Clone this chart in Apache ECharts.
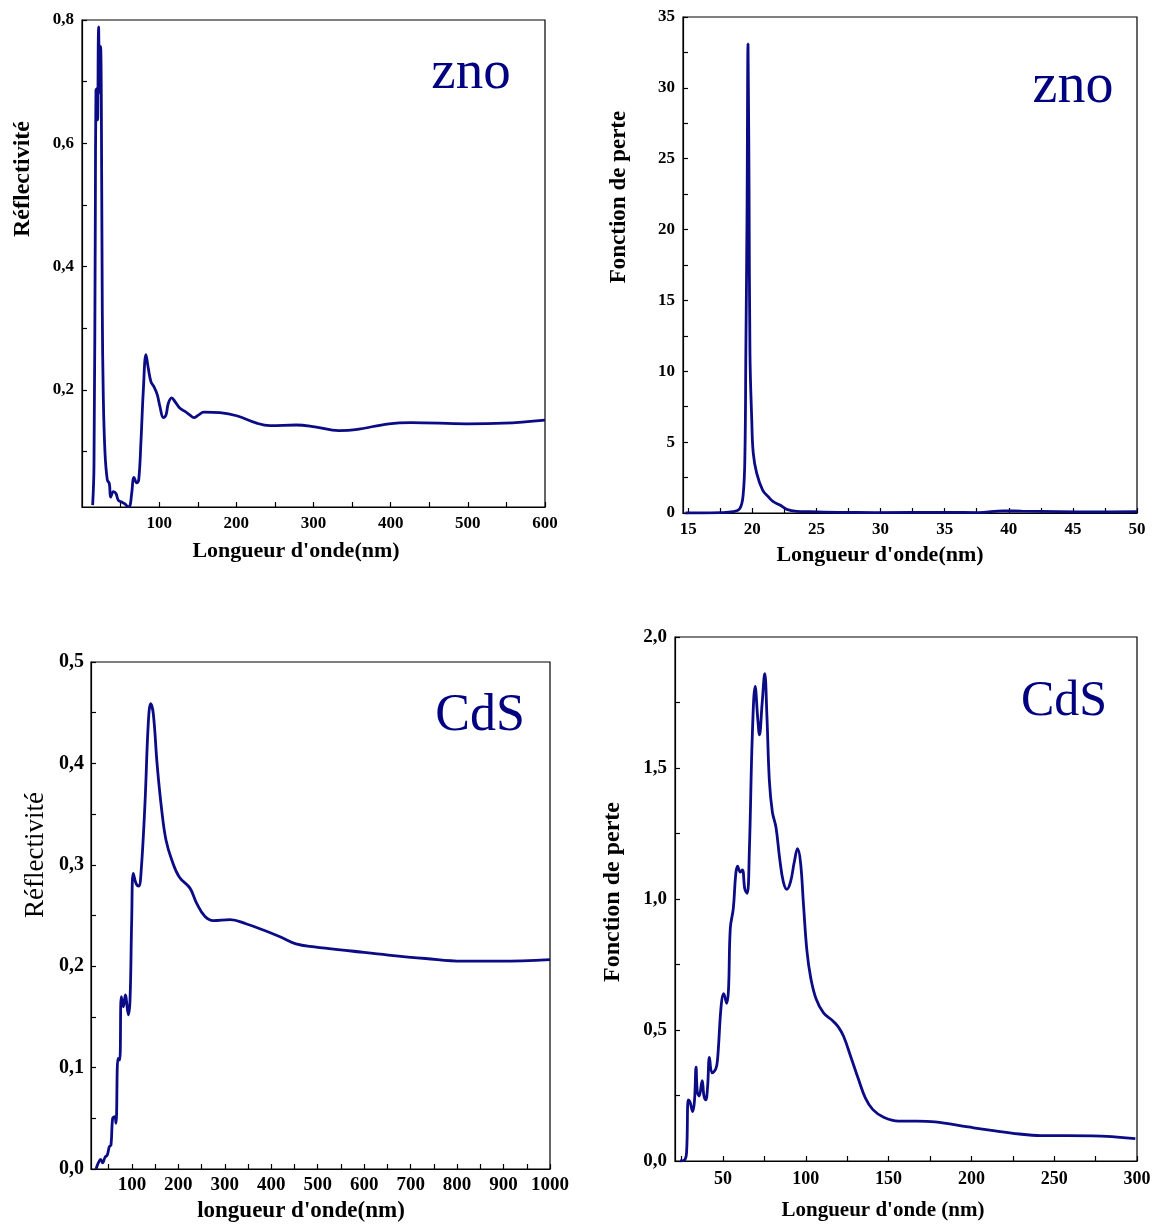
<!DOCTYPE html>
<html>
<head>
<meta charset="utf-8">
<title>Réflectivité et fonction de perte - ZnO / CdS</title>
<script src="https://cdn.jsdelivr.net/npm/echarts@6/dist/echarts.min.js"></script>
<style>
html, body { margin: 0; padding: 0; background: #fff; }
#chart { width: 1156px; height: 1224px; }
</style>
</head>
<body>
<div id="chart"></div>
<script>
// ZnO : réflectivité
var znoReflX = [13.8, 15.5, 17.3, 18.1, 19.9, 20.3, 21.6, 22.5, 23.3, 24.2, 25, 26.3, 27.6, 29.8, 32.8, 35.4, 37.2, 40.6, 44, 47, 51.4, 55.7, 60, 62.2, 64.4, 67.4, 70.9, 73.5, 76.5, 79.5, 82.9, 85.9, 89.4, 93.3, 97.6, 101, 105.4, 108.8, 111.8, 116.2, 120.5, 127, 133.5, 140, 145, 150.7, 158, 178.8, 200.4, 226.4, 243.6, 277.7, 301.7, 333, 354.5, 397.7, 426.4, 498.5, 546.4, 600];
var znoReflY = [0.013, 0.075, 0.49, 0.686, 0.689, 0.638, 0.789, 0.789, 0.681, 0.757, 0.68, 0.33, 0.189, 0.098, 0.054, 0.048, 0.026, 0.035, 0.032, 0.021, 0.018, 0.015, 0.0105, 0.012, 0.032, 0.058, 0.049, 0.054, 0.119, 0.2, 0.257, 0.235, 0.213, 0.205, 0.192, 0.173, 0.155, 0.159, 0.178, 0.187, 0.181, 0.17, 0.165, 0.159, 0.155, 0.159, 0.164, 0.163, 0.158, 0.146, 0.142, 0.143, 0.14, 0.134, 0.1355, 0.145, 0.147, 0.145, 0.146, 0.151];

// ZnO : fonction de perte
var znoLossX = [14.8, 16, 17.5, 18.5, 19.04, 19.3, 19.43, 19.5, 19.59, 19.67, 19.75, 19.82, 19.96, 20.08, 20.35, 20.81, 21.25, 21.64, 22.16, 22.69, 23.47, 24.5, 26.7, 29.6, 35.3, 37.6, 39.6, 41, 43.9, 46.7, 50];
var znoLossY = [0, 0, 0.02, 0.09, 0.33, 1.39, 4.2, 11.3, 20.7, 33.1, 23, 11.3, 6.6, 4.2, 2.8, 1.62, 1.15, 0.8, 0.56, 0.26, 0.12, 0.09, 0.05, 0.03, 0.05, 0.03, 0.15, 0.13, 0.1, 0.08, 0.1];

// CdS : réflectivité
var cdsReflX = [22.8, 27.8, 32.8, 37.1, 42.1, 47, 51.4, 55, 58.6, 63, 65.8, 70.1, 73.8, 77.2, 81.6, 85.9, 92.3, 96, 99.6, 103, 108.9, 114.7, 119.6, 128.2, 135.3, 140.5, 146.1, 154.7, 164.2, 173.4, 185.7, 202, 225, 239.5, 257.4, 275.3, 311.2, 347, 382.9, 418.8, 453, 493, 572, 652, 732, 811, 891, 1000];
var cdsReflY = [0, 0.006, 0.0095, 0.006, 0.0115, 0.0138, 0.022, 0.0237, 0.05, 0.0516, 0.045, 0.109, 0.1075, 0.17, 0.16, 0.1716, 0.152, 0.1667, 0.2456, 0.2916, 0.2817, 0.279, 0.2916, 0.3606, 0.4395, 0.459, 0.449, 0.397, 0.354, 0.3245, 0.305, 0.288, 0.277, 0.262, 0.249, 0.245, 0.246, 0.2416, 0.2357, 0.229, 0.222, 0.219, 0.215, 0.211, 0.2076, 0.205, 0.205, 0.2065];

// CdS : fonction de perte
var cdsLossX = [24, 26.8, 28, 29, 30, 31.7, 32.8, 33.7, 34.5, 35.6, 37.4, 38.5, 39.6, 40.7, 41.8, 43.4, 45.6, 46.7, 48.9, 50.4, 52.2, 53.3, 54.4, 56.2, 57.7, 58.8, 60.4, 61.7, 63.2, 64.6, 65.9, 67.7, 69.4, 71, 72, 73.6, 75.2, 76.5, 78, 79.8, 82, 84.2, 86.4, 88.6, 90.8, 93, 95, 96.8, 98.6, 100.7, 103, 106.3, 110.7, 116.2, 119.5, 122.8, 127.3, 131.7, 136, 140.5, 147, 156, 167, 178, 198, 211, 229, 242, 273, 299];
var cdsLossY = [0, 0.004, 0.034, 0.233, 0.226, 0.189, 0.233, 0.358, 0.263, 0.248, 0.307, 0.248, 0.233, 0.285, 0.395, 0.336, 0.351, 0.388, 0.594, 0.639, 0.602, 0.653, 0.889, 0.963, 1.096, 1.125, 1.103, 1.111, 1.037, 1.022, 1.184, 1.627, 1.811, 1.686, 1.627, 1.745, 1.86, 1.70, 1.45, 1.332, 1.273, 1.155, 1.066, 1.037, 1.066, 1.14, 1.192, 1.14, 0.978, 0.80, 0.698, 0.617, 0.565, 0.535, 0.513, 0.476, 0.395, 0.314, 0.24, 0.196, 0.167, 0.152, 0.152, 0.149, 0.13, 0.118, 0.103, 0.097, 0.096, 0.0855];

// graduations (étiquettes puis toutes les marques)
var znoReflXLabels = [100, 200, 300, 400, 500, 600];
var znoReflXTicks = [50, 100, 150, 200, 250, 300, 350, 400, 450, 500, 550, 600];
var znoReflYLabels = [0.2, 0.4, 0.6, 0.8];
var znoReflYTicks = [0.1, 0.2, 0.3, 0.4, 0.5, 0.6, 0.7, 0.8];
var znoLossXLabels = [15, 20, 25, 30, 35, 40, 45, 50];
var znoLossXTicks = [15, 17.5, 20, 22.5, 25, 27.5, 30, 32.5, 35, 37.5, 40, 42.5, 45, 47.5, 50];
var znoLossYLabels = [0, 5, 10, 15, 20, 25, 30, 35];
var znoLossYTicks = [0, 2.5, 5, 7.5, 10, 12.5, 15, 17.5, 20, 22.5, 25, 27.5, 30, 32.5, 35];
var cdsReflXLabels = [100, 200, 300, 400, 500, 600, 700, 800, 900, 1000];
var cdsReflXTicks = [50, 100, 150, 200, 250, 300, 350, 400, 450, 500, 550, 600, 650, 700, 750, 800, 850, 900, 950, 1000];
var cdsReflYLabels = [0, 0.1, 0.2, 0.3, 0.4, 0.5];
var cdsReflYTicks = [0, 0.05, 0.1, 0.15, 0.2, 0.25, 0.3, 0.35, 0.4, 0.45, 0.5];
var cdsLossXLabels = [50, 100, 150, 200, 250, 300];
var cdsLossXTicks = [25, 50, 75, 100, 125, 150, 175, 200, 225, 250, 275, 300];
var cdsLossYLabels = [0, 0.5, 1, 1.5, 2];
var cdsLossYTicks = [0, 0.25, 0.5, 0.75, 1, 1.25, 1.5, 1.75, 2];

var serif = "'Liberation Serif', 'Times New Roman', serif";
var navy = '#0b0b86';

function comma (v) {
  return v.toFixed(1).replace('.', ',');
}

function zip (xs, ys) {
  return xs.map(function (x, i) { return [x, ys[i]]; });
}

function axis (grid, min, max, labels, ticks, fmt, size, margin) {
  return {
    type: 'value',
    gridIndex: grid,
    min: min,
    max: max,
    axisLine: { show: true, onZero: false, lineStyle: { color: '#000', width: 1.2 } },
    axisTick: { show: true, inside: true, length: 5, customValues: ticks, lineStyle: { color: '#000', width: 1.2 } },
    axisLabel: {
      customValues: labels,
      formatter: fmt,
      fontFamily: serif,
      fontWeight: 'bold',
      fontSize: size,
      color: '#000',
      margin: margin
    },
    splitLine: { show: false }
  };
}

function line (i, data) {
  return {
    type: 'line',
    xAxisIndex: i,
    yAxisIndex: i,
    data: data,
    showSymbol: false,
    smooth: 0.4,
    lineStyle: { color: navy, width: 2.8 },
    animation: false
  };
}

function txt (x, y, text, size, weight, color, rot) {
  return {
    type: 'text',
    x: x,
    y: y,
    rotation: rot || 0,
    style: {
      text: text,
      fontFamily: serif,
      fontSize: size,
      fontWeight: weight,
      fill: color,
      align: 'center',
      verticalAlign: 'middle'
    }
  };
}

var chart = echarts.init(document.getElementById('chart'));
var gridStyle = { show: true, borderColor: '#000', borderWidth: 1.2, containLabel: false };

var option = {
  animation: false,
  grid: [
    Object.assign({ left: 82, top: 20, width: 463, height: 487 }, gridStyle),
    Object.assign({ left: 683, top: 17, width: 454, height: 496 }, gridStyle),
    Object.assign({ left: 91, top: 662, width: 459, height: 507 }, gridStyle),
    Object.assign({ left: 675, top: 637, width: 462, height: 524 }, gridStyle)
  ],
  xAxis: [
    axis(0, 0, 600, znoReflXLabels, znoReflXTicks, function (v) { return String(v); }, 17, 8),
    axis(1, 14.6, 50, znoLossXLabels, znoLossXTicks, function (v) { return String(v); }, 17, 8),
    axis(2, 12, 1000, cdsReflXLabels, cdsReflXTicks, function (v) { return String(v); }, 19, 7),
    axis(3, 21, 300, cdsLossXLabels, cdsLossXTicks, function (v) { return String(v); }, 18, 9)
  ],
  yAxis: [
    axis(0, 0.01, 0.8, znoReflYLabels, znoReflYTicks, comma, 17, 8),
    axis(1, 0, 35, znoLossYLabels, znoLossYTicks, function (v) { return String(v); }, 17, 8),
    axis(2, 0, 0.5, cdsReflYLabels, cdsReflYTicks, comma, 20, 7),
    axis(3, 0, 2, cdsLossYLabels, cdsLossYTicks, comma, 19, 8)
  ],
  series: [
    line(0, zip(znoReflX, znoReflY)),
    line(1, zip(znoLossX, znoLossY)),
    line(2, zip(cdsReflX, cdsReflY)),
    line(3, zip(cdsLossX, cdsLossY))
  ],
  graphic: [
    txt(23, 179, 'Réflectivité', 24, 'bold', '#000', Math.PI / 2),
    txt(619, 197, 'Fonction de perte', 23, 'bold', '#000', Math.PI / 2),
    txt(36, 855, 'Réflectivité', 27, 'normal', '#000', Math.PI / 2),
    txt(613, 892, 'Fonction de perte', 24, 'bold', '#000', Math.PI / 2),
    txt(296, 551, "Longueur d'onde(nm)", 22, 'bold', '#000'),
    txt(880, 555, "Longueur d'onde(nm)", 22, 'bold', '#000'),
    txt(301, 1211, "longueur d'onde(nm)", 23, 'bold', '#000'),
    txt(883, 1211, "Longueur d'onde (nm)", 21, 'bold', '#000'),
    txt(471, 74, 'zno', 55, 'normal', '#000080'),
    txt(1073, 87, 'zno', 56, 'normal', '#000080'),
    txt(480, 716, 'CdS', 52, 'normal', '#000080'),
    txt(1064, 702, 'CdS', 50, 'normal', '#000080')
  ]
};

chart.setOption(option);
</script>
</body>
</html>
